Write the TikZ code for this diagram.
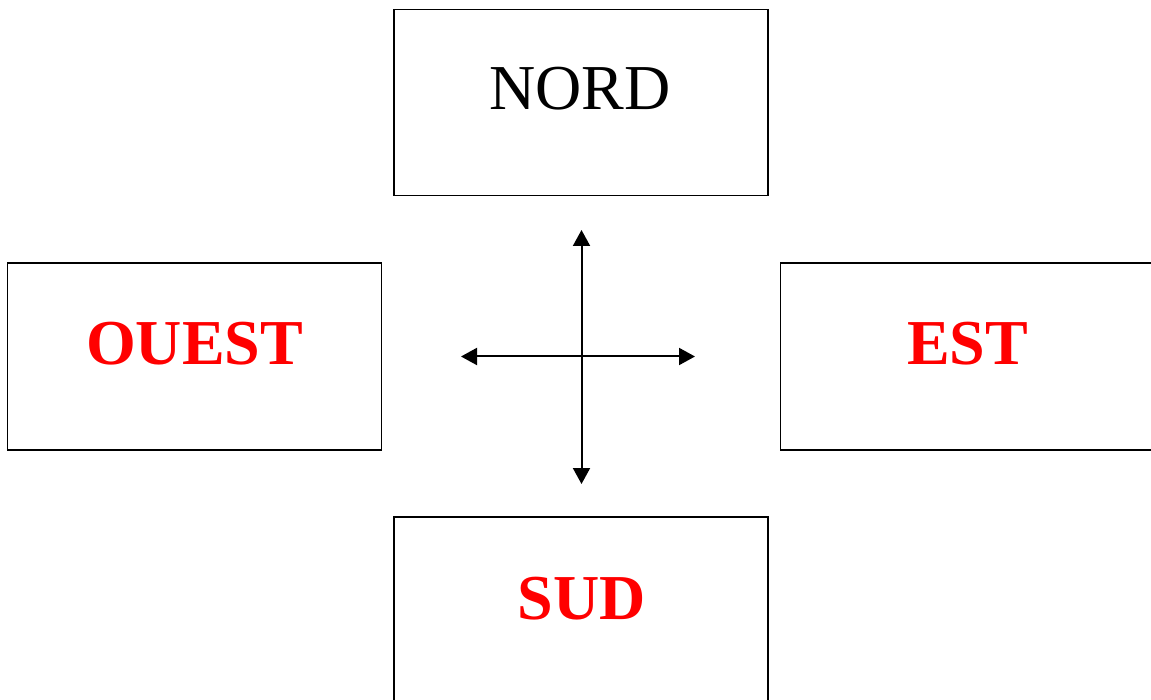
\documentclass[tikz,border=0pt]{standalone}
\usepackage{fontspec}
\setmainfont{Liberation Serif}
\usetikzlibrary{arrows.meta}
\tikzset{
  dirbox/.style={draw=black, line width=1.5pt, rectangle, inner sep=0pt, outer sep=0pt},
  dirtext/.style={anchor=base, inner sep=0pt, font=\fontsize{64}{70}\selectfont},
  redtext/.style={dirtext, text=red, font=\fontsize{64}{70}\selectfont\bfseries},
  cross/.style={line width=2pt, {Triangle[length=16pt,width=17pt]}-{Triangle[length=16pt,width=17pt]}}
}
\begin{document}
\begin{tikzpicture}[x=1pt,y=-1pt]
\useasboundingbox (0,0) rectangle (1151,700);
\clip (0,0) rectangle (1151,700);
\fill[white] (0,0) rectangle (1151,700);
% boxes
\node[dirbox, minimum width=374pt, minimum height=186pt, anchor=north west] (nordbox) at (394,9.5) {};
\node[dirbox, minimum width=374pt, minimum height=187pt, anchor=north west] (ouestbox) at (7.5,263) {};
\node[dirbox, minimum width=390pt, minimum height=187pt, anchor=north west] (estbox) at (780.5,263) {};
\node[dirbox, minimum width=374pt, minimum height=200pt, anchor=north west] (sudbox) at (394,517) {};
% labels
\node[dirtext] (nord) at (580,110) {NORD};
\node[redtext] (ouest) at (194.5,365) {OUEST};
\node[redtext] (est) at (967.5,365) {EST};
\node[redtext] (sud) at (581.5,619) {SUD};
% cross
\coordinate (ctop) at (581.5,230);
\coordinate (cbot) at (581.5,484);
\coordinate (cleft) at (461,356.5);
\coordinate (cright) at (695,356.5);
\draw[cross] (cbot) -- (ctop);
\draw[cross] (cleft) -- (cright);
\end{tikzpicture}
\end{document}
